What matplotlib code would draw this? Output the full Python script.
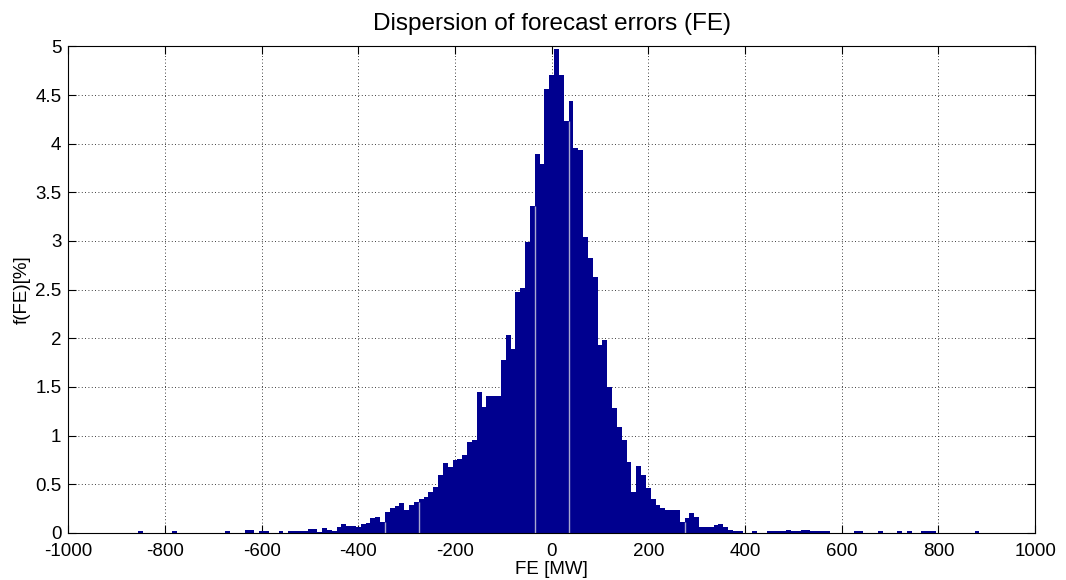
import numpy as np
import matplotlib
matplotlib.use("Agg")
import matplotlib.pyplot as plt

plt.rcParams['font.family'] = ['Liberation Sans', 'DejaVu Sans']
plt.rcParams['axes.unicode_minus'] = False

# histogram of forecast errors, bin width 10 MW, values in %
core_start = -500
core_values = [
    0.035, 0.035, 0.01, 0.045, 0.025, 0.02, 0.06, 0.09, 0.072, 0.072,   # -500 .. -410
    0.055, 0.09, 0.10, 0.155, 0.16, 0.11, 0.21, 0.25, 0.28, 0.31,       # -400 .. -310
    0.23, 0.29, 0.32, 0.345, 0.37, 0.42, 0.475, 0.595, 0.715, 0.675,    # -300 .. -210
    0.75, 0.755, 0.80, 0.935, 0.955, 1.45, 1.29, 1.41, 1.41, 1.41,      # -200 .. -110
    1.776, 2.033, 1.886, 2.478, 2.513, 2.99, 3.36, 3.89, 3.79, 4.56,    # -100 .. -10
    4.71, 4.97, 4.71, 4.23, 4.44, 3.96, 3.94, 3.045, 2.821, 2.633,      # 0 .. 90
    1.93, 1.98, 1.50, 1.28, 1.09, 0.95, 0.73, 0.42, 0.687, 0.596,       # 100 .. 190
    0.457, 0.35, 0.29, 0.25, 0.234, 0.234, 0.234, 0.114, 0.15, 0.199,   # 200 .. 290
    0.16, 0.06, 0.06, 0.06, 0.08, 0.09, 0.06, 0.03, 0.02, 0.02,         # 300 .. 390
]
left_tail_centers = [-850, -780, -670, -630, -620, -600, -590, -560, -540, -530, -520, -510]
left_tail_values = [0.02, 0.02, 0.02, 0.03, 0.03, 0.02, 0.02, 0.02, 0.02, 0.02, 0.02, 0.02]
right_tail_centers = [420, 450, 460, 470, 480, 490, 500, 510, 520, 530, 540, 550, 560, 570,
                      630, 640, 680, 720, 740, 770, 780, 790, 880]
right_tail_values = [0.015, 0.02, 0.02, 0.02, 0.02, 0.025, 0.02, 0.02, 0.025, 0.025, 0.02, 0.02, 0.02, 0.02,
                     0.02, 0.02, 0.015, 0.02, 0.02, 0.02, 0.02, 0.02, 0.02]

core_centers = core_start + 10 * np.arange(len(core_values))
centers = np.concatenate([left_tail_centers, core_centers, right_tail_centers])
values = np.concatenate([left_tail_values, core_values, right_tail_values])

fig = plt.figure(figsize=(10.66, 5.8), dpi=100)
ax = fig.add_axes([0.064, 0.0814, 0.907, 0.8386])
ax.set_axisbelow(True)
ax.bar(centers, values, width=10, color='#00008F', linewidth=0)

# rendering seams visible in the original bars
seams = [-345, -275, -35, 35, 275]
seam_h = [min(values[centers == s - 5].max(initial=0), values[centers == s + 5].max(initial=0)) for s in seams]
ax.vlines(seams, 0, seam_h, color='#a8a8d0', lw=1)

ax.set_xlim(-1000, 1000)
ax.set_ylim(0, 5)
ax.set_xticks(np.arange(-1000, 1001, 200))
ax.set_yticks(np.arange(0, 5.01, 0.5))
ax.set_yticklabels(['0', '0.5', '1', '1.5', '2', '2.5', '3', '3.5', '4', '4.5', '5'])
ax.grid(True, color='black', linestyle=(0, (1, 3)), linewidth=0.6)
ax.tick_params(direction='in', length=6, top=True, right=True, labelsize=13.5)
ax.tick_params(axis='x', pad=7)
ax.tick_params(axis='y', pad=5)
for sp in ax.spines.values():
    sp.set_linewidth(0.8)

ax.set_title('Dispersion of forecast errors (FE)', fontsize=17.5, pad=12)
ax.set_xlabel('FE [MW]', fontsize=13.5, labelpad=1)
ax.set_ylabel('f(FE)[%]', fontsize=13.5, labelpad=3)

fig.savefig('out.png', dpi=100)
